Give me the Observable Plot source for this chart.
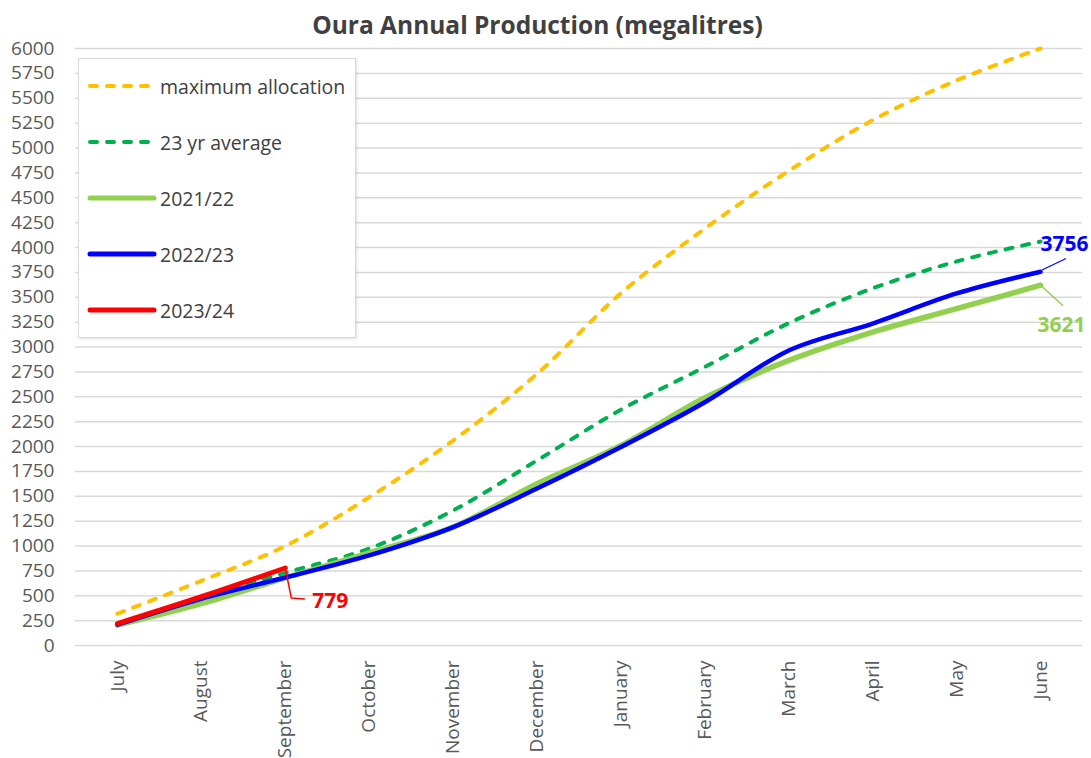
<!DOCTYPE html>
<html><head><meta charset="utf-8">
<script src="https://cdn.jsdelivr.net/npm/d3@7"></script>
<script src="https://cdn.jsdelivr.net/npm/@observablehq/plot@0.6"></script>
<style>
body{margin:0;background:#fff;font-family:'Open Sans',sans-serif;}
#wrap{position:relative;width:1091px;height:758px;overflow:hidden;}
#title{position:absolute;top:9px;left:0;width:1075px;text-align:center;font-weight:700;font-size:24.5px;line-height:32px;color:#404040;}
#chart{position:absolute;top:40px;left:0;width:1091px;}
#legend{position:absolute;left:78px;top:58px;width:278px;height:280px;border:1px solid #d9d9d9;background:#fff;box-sizing:border-box;box-shadow:1px 1px 2px rgba(0,0,0,0.12);}
.item{position:absolute;left:8px;height:26px;display:flex;align-items:center;font-size:19.5px;color:#404040;white-space:nowrap;}
.item svg{margin-right:3px;}
</style>
</head><body>
<div id="wrap">
  <div id="title">Oura Annual Production (megalitres)</div>
  <div id="chart"></div>
  <div id="legend"></div>
</div>
<script>
const months = ["July","August","September","October","November","December","January","February","March","April","May","June"];
const maxAllocation = [320, 650, 1000, 1490, 2060, 2730, 3540, 4190, 4770, 5280, 5680, 6000];
const avg23 = [215, 480, 730, 975, 1357, 1860, 2370, 2800, 3240, 3590, 3860, 4060];
const y2122 = [205, 420, 680, 930, 1190, 1625, 2010, 2490, 2865, 3150, 3385, 3621];
const y2223 = [210, 470, 683, 905, 1190, 1578, 1995, 2445, 2965, 3236, 3538, 3756];
const y2324 = [220, 490, 779];
const yTicks = d3.range(0, 6001, 250);

const seriesNames = ["maximum allocation", "23 yr average", "2021/22", "2022/23", "2023/24"];
const seriesColors = ["#FFC000", "#00B050", "#92D050", "#0000FF", "#FF0000"];
const seriesDash = ["7,10", "7,10", null, null, null];
const seriesWidth = [4, 4, 5.5, 4.5, 5];
const seriesValues = [maxAllocation, avg23, y2122, y2223, y2324];

const rows = (vals) => vals.map((v, i) => ({month: months[i], value: v}));

const font = "'Open Sans', sans-serif";

const lineMarks = seriesValues.map((vals, k) => Plot.line(rows(vals), {
  x: "month", y: "value",
  stroke: seriesColors[k], strokeWidth: seriesWidth[k],
  strokeDasharray: seriesDash[k] ?? undefined,
  strokeLinecap: "round",
  strokeLinejoin: "round",
  curve: "catmull-rom"
}));

const lastBlue = {month: months[11], value: y2223[11]};
const lastGreen = {month: months[11], value: y2122[11]};
const lastRed = {month: months[2], value: y2324[2]};

const pathShape = (start, pts) => ({draw(ctx) { ctx.moveTo(start[0], start[1]); pts.forEach(([a, b]) => ctx.lineTo(a, b)); }});

const chart = Plot.plot({
  width: 1091, height: 718,
  marginTop: 8, marginBottom: 113, marginLeft: 75, marginRight: 9,
  style: {fontFamily: font, fontSize: "19px", color: "#595959", overflow: "visible"},
  x: {type: "point", domain: months, padding: 0.5, round: false, label: null},
  y: {domain: [0, 6000], label: null},
  marks: [
    Plot.gridY(yTicks, {stroke: "#d9d9d9", strokeOpacity: 1, strokeWidth: 1.5}),
    Plot.axisY(yTicks, {tickSize: 0, tickPadding: 21, tickFormat: "d", label: null, fill: "#595959", fontSize: 19}),
    Plot.axisX({tickSize: 0, tickPadding: 15, tickRotate: -90, label: null, fill: "#595959", fontSize: 19}),
    ...lineMarks,
    Plot.vector([lastBlue], {x: "month", y: "value", anchor: "start", length: 1, stroke: "#0000FF", strokeWidth: 1.2, shape: pathShape([2, -2], [[25, -13]])}),
    Plot.vector([lastGreen], {x: "month", y: "value", anchor: "start", length: 1, stroke: "#92D050", strokeWidth: 1.5, shape: pathShape([0, 0], [[22, 20]])}),
    Plot.vector([lastRed], {x: "month", y: "value", anchor: "start", length: 1, stroke: "#FF0000", strokeWidth: 1.5, shape: pathShape([0, 0], [[6, 30], [19, 31]])}),
    Plot.text([lastBlue], {x: "month", y: "value", text: d => String(d.value), dx: 0, dy: -28, textAnchor: "start", fill: "#0000FF", fontWeight: "bold", fontSize: 21}),
    Plot.text([lastGreen], {x: "month", y: "value", text: d => String(d.value), dx: -3, dy: 40, textAnchor: "start", fill: "#92D050", fontWeight: "bold", fontSize: 21}),
    Plot.text([lastRed], {x: "month", y: "value", text: d => String(d.value), dx: 27, dy: 33, textAnchor: "start", fill: "#FF0000", fontWeight: "bold", fontSize: 21})
  ]
});
document.getElementById("chart").appendChild(chart);

const legend = document.getElementById("legend");
seriesNames.forEach((name, k) => {
  const item = document.createElement("div");
  item.className = "item";
  item.style.top = (14 + 56 * k) + "px";
  const dash = seriesDash[k] ? `stroke-dasharray="7,10"` : "";
  item.innerHTML = `<svg width="70" height="10"><line x1="3" x2="${seriesDash[k] ? 66 : 67}" y1="5" y2="5" stroke="${seriesColors[k]}" stroke-width="${seriesDash[k] ? 4 : 5}" stroke-linecap="round" ${dash}/></svg><span>${name}</span>`;
  legend.appendChild(item);
});
</script>
</body></html>
